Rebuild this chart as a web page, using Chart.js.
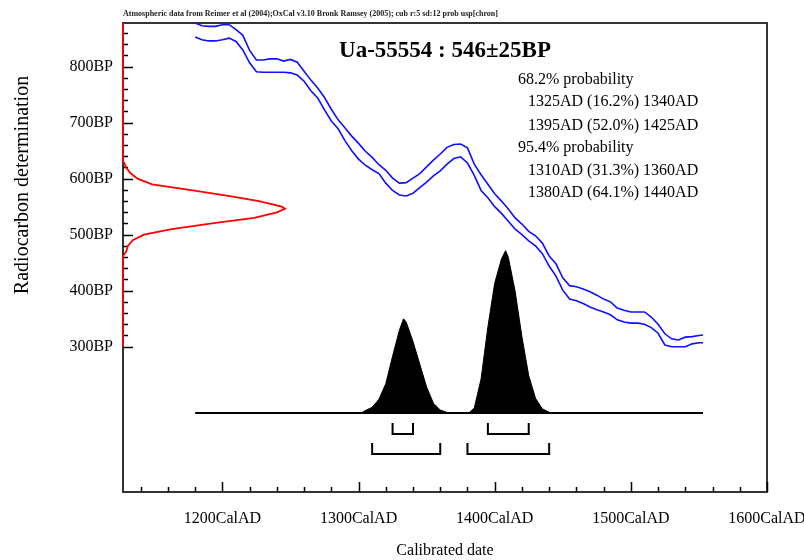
<!DOCTYPE html>
<html>
<head>
<meta charset="utf-8">
<script src="https://cdn.jsdelivr.net/npm/chart.js@4.4.1/dist/chart.umd.min.js"></script>
<style>
  html, body { margin: 0; padding: 0; background: #fff; }
  canvas { display: block; }
</style>
</head>
<body>
<canvas id="c" width="804" height="560"></canvas>
<script>
// ---- calibration curve (upper / lower 1-sigma envelope), years AD vs BP
const curveYears = [1180,1185,1190,1195,1200,1205,1210,1215,1220,1225,1230,1235,1240,1245,1250,1255,1260,1265,1270,1275,1280,1285,1290,1295,1300,1305,1310,1315,1320,1325,1330,1335,1340,1345,1350,1355,1360,1365,1370,1375,1380,1385,1390,1395,1400,1405,1410,1415,1420,1425,1430,1435,1440,1445,1450,1455,1460,1465,1470,1475,1480,1485,1490,1495,1500,1505,1510,1515,1520,1525,1530,1535,1540,1545,1550,1553];
const curveUpper = [878,873,872,872,875,875,866,856,829,812,812,814,814,810,813,808,792,776,762,745,724,705,691,676,663,649,638,625,615,601,592,593,601,609,621,633,644,656,661,662,655,626,607,590,573,560,546,530,519,506,498,485,462,448,423,409,407,403,398,392,385,380,369,365,362,362,362,353,340,323,314,312,317,318,320,321];
const curveLower = [853,848,846,846,848,851,845,830,807,791,790,790,790,790,789,785,774,757,744,723,703,689,668,650,635,624,616,609,592,579,571,569,574,584,594,605,614,626,636,639,628,606,579,566,550,538,524,510,500,489,480,466,444,426,401,385,382,377,371,366,362,357,348,344,342,342,340,334,324,303,300,300,300,305,307,307];

// ---- calibrated probability distribution (relative)
const probYears  = [1302,1305,1310,1315,1320,1325,1330,1333,1335,1340,1345,1350,1355,1360,1365,1367,1381,1385,1390,1395,1400,1405,1408,1410,1415,1420,1425,1430,1435,1440,1441];
const probValues = [0,0.015,0.035,0.085,0.18,0.35,0.51,0.58,0.56,0.44,0.30,0.16,0.06,0.018,0.003,0,0,0.03,0.21,0.53,0.80,0.95,1.0,0.96,0.75,0.47,0.23,0.09,0.025,0.005,0];

// ---- radiocarbon measurement distribution (BP vs relative)
const measBP   = [878,632,620,610,600,590,580,570,560,550,546,540,530,520,510,500,490,480,470,462,300];
const measProb = [0,0,0.02,0.045,0.09,0.18,0.41,0.63,0.84,0.98,1.0,0.95,0.81,0.55,0.30,0.13,0.06,0.03,0.02,0,0];

// ---- ranges
const range68 = [[1325,1340],[1395,1425]];
const range95 = [[1310,1360],[1380,1440]];

// ---- ticks
const xTicks = [1200,1300,1400,1500,1600];
const xTickLabels = ['1200CalAD','1300CalAD','1400CalAD','1500CalAD','1600CalAD'];
const yTicks = [300,400,500,600,700,800];
const yTickLabels = ['300BP','400BP','500BP','600BP','700BP','800BP'];

// ---- texts
const headerText = 'Atmospheric data from Reimer et al (2004);OxCal v3.10 Bronk Ramsey (2005); cub r:5 sd:12 prob usp[chron]';
const titleText = 'Ua-55554 : 546\u00b125BP';
const probLines = ['68.2% probability','1325AD (16.2%) 1340AD','1395AD (52.0%) 1425AD','95.4% probability','1310AD (31.3%) 1360AD','1380AD (64.1%) 1440AD'];

// ---- layout constants
const SERIF = '"Liberation Serif", "Times New Roman", serif';
const LEVEL68 = [-0.062, -0.129];
const LEVEL95 = [-0.185, -0.253];

const pts = (xs, ys) => xs.map((x, i) => ({x: x, y: ys[i]}));
const bracket = (r, lv) => [{x:r[0],y:lv[0]},{x:r[0],y:lv[1]},{x:r[1],y:lv[1]},{x:r[1],y:lv[0]}];

const lineDs = (data, color, width, xAxis, yAxis) => ({
  data, showLine: true, borderColor: color, borderWidth: width, pointRadius: 0,
  fill: false, tension: 0, xAxisID: xAxis, yAxisID: yAxis
});

const datasets = [
  lineDs(pts(curveYears, curveUpper), '#1010ff', 1.6, 'x', 'y'),
  lineDs(pts(curveYears, curveLower), '#1010ff', 1.6, 'x', 'y'),
  Object.assign(lineDs(pts(probYears, probValues), '#000', 1, 'x', 'yP'), {fill: 'origin', backgroundColor: '#000'}),
  lineDs([{x: curveYears[0], y: 0}, {x: curveYears[curveYears.length-1], y: 0}], '#000', 2, 'x', 'yP'),
  ...range68.map(r => lineDs(bracket(r, LEVEL68), '#000', 2, 'x', 'yP')),
  ...range95.map(r => lineDs(bracket(r, LEVEL95), '#000', 2, 'x', 'yP')),
  Object.assign(lineDs(pts(measProb, measBP), '#ff0000', 1.8, 'xR', 'y'), {clip: false}),
];

const decor = {
  id: 'decor',
  beforeDatasetsDraw(chart) {
    const {ctx, chartArea: a, scales} = chart;
    ctx.save();
    ctx.strokeStyle = '#333';
    ctx.lineWidth = 2;
    ctx.strokeRect(a.left, a.top, a.right - a.left, a.bottom - a.top);
    ctx.strokeStyle = '#000';
    ctx.lineWidth = 1.5;
    ctx.beginPath();
    for (let v = 300; v <= 860; v += 20) {
      const py = Math.round(scales.y.getPixelForValue(v)) + 0.5;
      const len = v % 100 === 0 ? 10 : 5;
      ctx.moveTo(a.left, py); ctx.lineTo(a.left + len, py);
    }
    for (let v = 1140; v <= 1600; v += 20) {
      const px = Math.round(scales.x.getPixelForValue(v)) + 0.5;
      const len = v % 100 === 0 ? 10 : 5;
      ctx.moveTo(px, a.bottom); ctx.lineTo(px, a.bottom - len);
    }
    ctx.stroke();
    ctx.restore();
  },
  afterDraw(chart) {
    const {ctx, chartArea: a} = chart;
    ctx.save();
    ctx.fillStyle = '#222';
    ctx.textBaseline = 'alphabetic';
    ctx.textAlign = 'left';
    ctx.font = 'bold 8px ' + SERIF;
    ctx.fillText(headerText, a.left, 16);
    ctx.fillStyle = '#000';
    ctx.textAlign = 'center';
    ctx.font = 'bold 23px ' + SERIF;
    ctx.fillText(titleText, 445, 57);
    ctx.textAlign = 'left';
    ctx.font = '16px ' + SERIF;
    const ys = [84, 105.5, 129.5, 152, 174.5, 196.5];
    probLines.forEach((t, i) => {
      const x = t.indexOf('probability') >= 0 ? 518 : 528;
      ctx.fillText(t, x, ys[i]);
    });
    // y-axis title
    ctx.translate(28, 185);
    ctx.rotate(-Math.PI / 2);
    ctx.textAlign = 'center';
    ctx.font = '20px ' + SERIF;
    ctx.fillText('Radiocarbon determination', 0, 0);
    ctx.restore();
  }
};

new Chart(document.getElementById('c'), {
  type: 'scatter',
  data: { datasets },
  options: {
    responsive: false,
    animation: false,
    devicePixelRatio: 1,
    layout: { padding: { top: 23, right: 37, left: 0, bottom: 0 } },
    plugins: { legend: { display: false }, tooltip: { enabled: false } },
    scales: {
      x: {
        type: 'linear', position: 'bottom', min: 1127, max: 1600,
        afterBuildTicks: s => { s.ticks = xTicks.map(v => ({ value: v })); },
        afterFit: s => { s.height = 68; s.paddingLeft = 0; s.paddingRight = 0; },
        grid: { display: false, drawTicks: false },
        border: { display: false },
        ticks: {
          autoSkip: false, maxRotation: 0, padding: 17, color: '#000',
          font: { family: SERIF, size: 16 },
          callback: (v, i) => xTickLabels[i]
        },
        title: { display: true, text: 'Calibrated date', color: '#000', padding: { top: 0, bottom: 0 }, font: { family: SERIF, size: 16 } }
      },
      y: {
        type: 'linear', position: 'left', min: 40.5, max: 878,
        afterBuildTicks: s => { s.ticks = yTicks.map(v => ({ value: v })); },
        afterFit: s => { s.width = 123; s.paddingTop = 0; s.paddingBottom = 0; },
        grid: { display: false, drawTicks: false },
        border: { display: false },
        ticks: {
          autoSkip: false, padding: 10, color: '#000',
          font: { family: SERIF, size: 16 },
          callback: (v, i) => yTickLabels[i]
        }
      },
      xR: { type: 'linear', display: false, position: 'bottom', min: 0, max: 3.975 },
      yP: { type: 'linear', display: false, position: 'left', min: -0.487, max: 2.403 }
    }
  },
  plugins: [decor]
});
</script>
</body>
</html>
